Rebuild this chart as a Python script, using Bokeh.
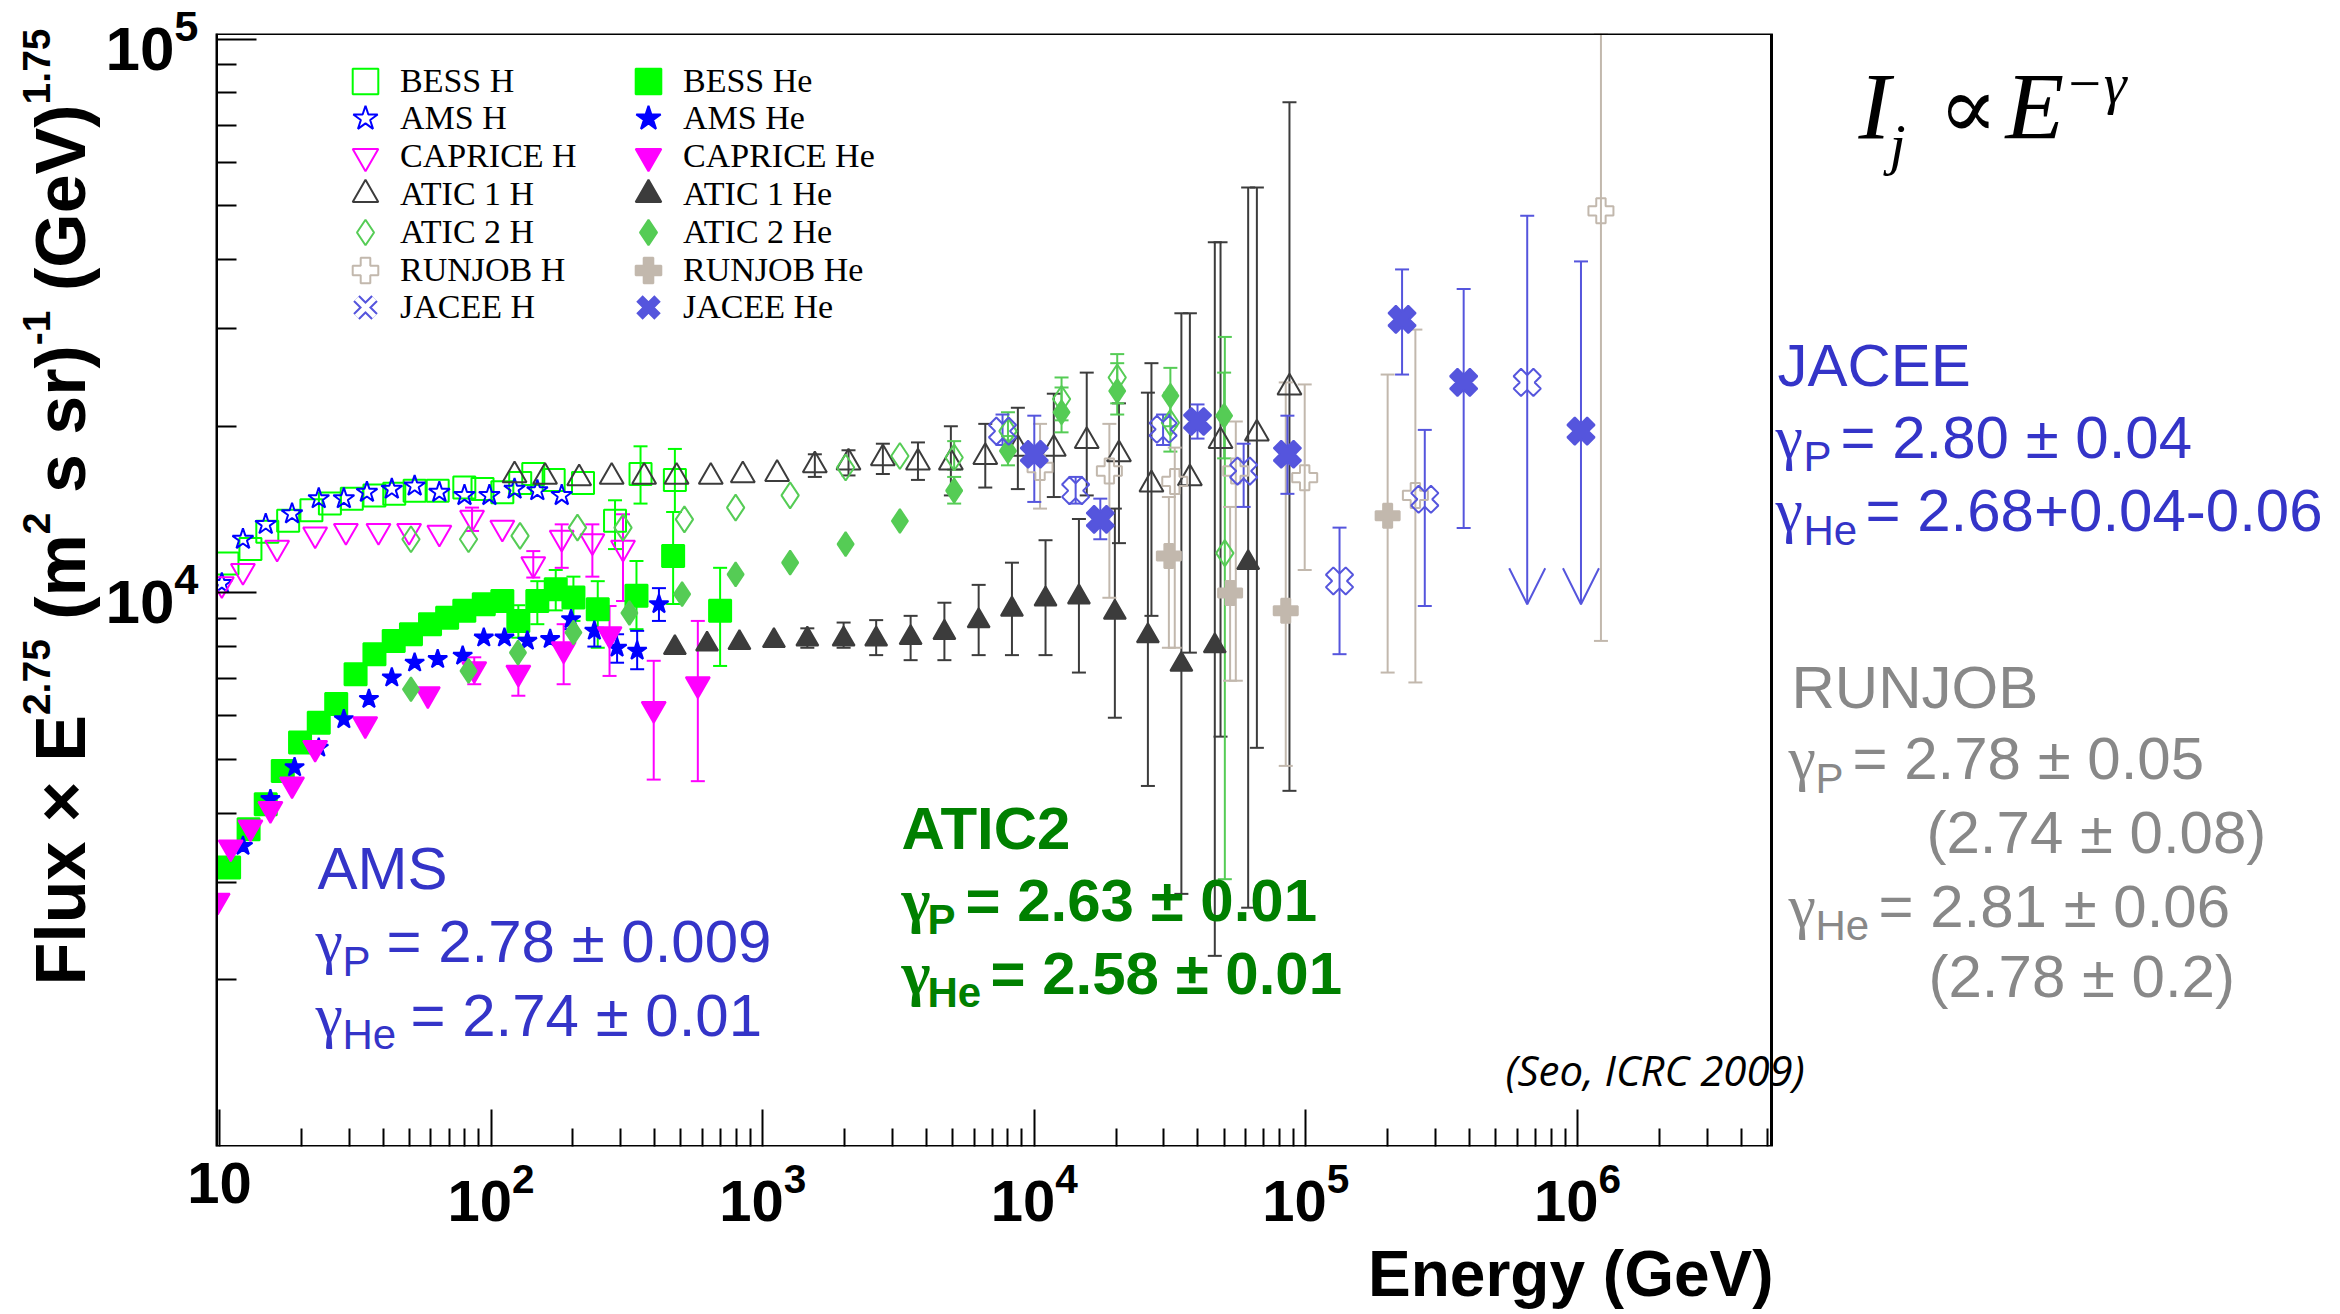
import numpy as np
from bokeh.plotting import figure
from bokeh.layouts import row, column
from bokeh.models import (Range1d, FixedTicker, LogTickFormatter, Label, Legend,
                          LegendItem, ColumnDataSource, Whisker, TeeHead, OpenHead,
                          BoxAnnotation)
from bokeh.embed import file_html
from bokeh.resources import INLINE

# ---------------- data (Energy GeV, Flux x E^2.75) ----------------
bess_h_E = [10.7, 13.0, 15.0, 17.9, 21.8, 25.5, 30.7, 37.2, 44.0, 52.3, 63.6, 79.7, 93.0, 110, 128, 143, 170, 218, 286, 355, 475]
bess_h_F = [1.13e4, 1.20e4, 1.29e4, 1.35e4, 1.41e4, 1.45e4, 1.48e4, 1.50e4, 1.51e4, 1.53e4, 1.53e4, 1.55e4, 1.54e4, 1.52e4, 1.58e4, 1.64e4, 1.60e4, 1.58e4, 1.35e4, 1.64e4, 1.60e4]
bess_h_lo = [None, None, None, None, None, None, None, None, None, None, None, None, None, None, None, None, None, None, 1.20e4, 1.45e4, 1.40e4]
bess_h_hi = [None, None, None, None, None, None, None, None, None, None, None, None, None, None, None, None, None, None, 1.47e4, 1.84e4, 1.82e4]

bess_he_E = [10.85, 12.8, 14.8, 17.1, 19.8, 23.2, 26.9, 31.7, 37.2, 43.8, 50.7, 59.6, 68.9, 79.7, 94, 110, 126, 148, 173, 201, 247, 343, 468, 697]
bess_he_F = [3.19e3, 3.74e3, 4.15e3, 4.77e3, 5.37e3, 5.83e3, 6.30e3, 7.13e3, 7.75e3, 8.19e3, 8.42e3, 8.78e3, 9.02e3, 9.28e3, 9.54e3, 9.67e3, 8.90e3, 9.67e3, 1.015e4, 9.81e3, 9.34e3, 9.88e3, 1.166e4, 9.28e3]
bess_he_lo = [None, None, None, None, None, None, None, None, None, None, None, None, None, 8.9e3, 9.2e3, 9.3e3, 8.3e3, 8.78e3, 9.3e3, 8.9e3, 7.96e3, 8.6e3, 9.55e3, 7.38e3]
bess_he_hi = [None, None, None, None, None, None, None, None, None, None, None, None, None, 9.7e3, 9.9e3, 1.0e4, 9.5e3, 1.05e4, 1.10e4, 1.07e4, 1.05e4, 1.142e4, 1.40e4, 1.11e4]

ams_h_E = [10.2, 12.2, 14.8, 18.5, 23.2, 28.7, 34.9, 43.1, 52.3, 64.5, 79.8, 98.6, 122, 148, 182]
ams_h_F = [1.04e4, 1.25e4, 1.33e4, 1.39e4, 1.48e4, 1.48e4, 1.52e4, 1.54e4, 1.56e4, 1.52e4, 1.50e4, 1.50e4, 1.54e4, 1.53e4, 1.50e4]

ams_he_E = [12.2, 15.4, 18.9, 23.2, 28.7, 35.5, 43.1, 52.3, 63.6, 78.6, 94, 112, 136, 165, 197, 240, 291, 345, 415]
ams_he_F = [3.49e3, 4.24e3, 4.84e3, 5.25e3, 5.91e3, 6.43e3, 7.03e3, 7.48e3, 7.59e3, 7.70e3, 8.30e3, 8.30e3, 8.19e3, 8.25e3, 8.96e3, 8.54e3, 7.96e3, 7.86e3, 9.54e3]
ams_he_lo = [None, None, None, None, None, None, None, None, None, None, None, None, None, None, 8.6e3, 8.0e3, 7.48e3, 7.28e3, 8.9e3]
ams_he_hi = [None, None, None, None, None, None, None, None, None, None, None, None, None, None, 9.4e3, 9.0e3, 8.42e3, 8.54e3, 1.02e4]

cap_h_E = [10.2, 12.2, 16.3, 22.5, 29.2, 38.5, 49.9, 64.5, 85.1, 110, 143, 182, 236, 306]
cap_h_F = [1.037e4, 1.096e4, 1.207e4, 1.276e4, 1.294e4, 1.294e4, 1.294e4, 1.285e4, 1.368e4, 1.312e4, 1.127e4, 1.258e4, 1.24e4, 1.207e4]
cap_h_lo = [None, None, None, None, None, None, None, None, 1.294e4, None, 1.066e4, 1.11e4, 1.07e4, 9.67e3]
cap_h_hi = [None, None, None, None, None, None, None, None, 1.426e4, None, 1.19e4, 1.33e4, 1.33e4, 1.387e4]

cap_he_E = [9.85, 11.0, 13.0, 15.4, 18.5, 22.5, 34.4, 58.5, 86.7, 126, 185, 273, 397, 577]
cap_he_F = [2.78e3, 3.47e3, 3.77e3, 4.07e3, 4.51e3, 5.25e3, 5.79e3, 6.56e3, 7.28e3, 7.18e3, 7.91e3, 8.42e3, 6.17e3, 6.84e3]
cap_he_lo = [None, None, None, None, None, None, None, None, 6.84e3, 6.52e3, 6.84e3, 7.08e3, 4.60e3, 4.57e3]
cap_he_hi = [None, None, None, None, None, None, None, None, 7.65e3, 7.75e3, 8.78e3, 9.47e3, 7.54e3, 8.90e3]

atic1_h_E = [122, 158, 211, 278, 366, 482, 644, 845, 1130, 1556, 2070, 2770, 3730, 4930, 6600, 8700, 11800, 15600, 20500, 27000, 37400, 48500, 66000, 87000]
atic1_h_F = [1.63e4, 1.62e4, 1.61e4, 1.62e4, 1.62e4, 1.62e4, 1.62e4, 1.63e4, 1.64e4, 1.70e4, 1.72e4, 1.75e4, 1.72e4, 1.72e4, 1.76e4, 1.82e4, 1.82e4, 1.88e4, 1.78e4, 1.57e4, 1.61e4, 1.88e4, 1.94e4, 2.35e4]
atic1_h_lo = [None, None, None, None, None, None, None, None, None, 1.62e4, 1.63e4, 1.64e4, 1.60e4, 1.50e4, 1.55e4, 1.54e4, 1.49e4, 1.50e4, 1.23e4, 9.09e3, 7.80e3, 5.50e3, 5.25e3, 4.39e3]
atic1_h_hi = [None, None, None, None, None, None, None, None, None, 1.78e4, 1.81e4, 1.86e4, 1.87e4, 2.00e4, 2.02e4, 2.16e4, 2.29e4, 2.50e4, 2.20e4, 2.60e4, 3.20e4, 4.30e4, 5.40e4, 7.70e4]

atic1_he_E = [475, 624, 821, 1100, 1460, 1986, 2617, 3505, 4667, 6240, 8275, 11000, 14600, 19800, 26200, 34800, 46200, 61300]
atic1_he_F = [7.96e3, 8.08e3, 8.13e3, 8.20e3, 8.25e3, 8.25e3, 8.25e3, 8.30e3, 8.48e3, 8.90e3, 9.34e3, 9.74e3, 9.83e3, 9.22e3, 8.36e3, 7.43e3, 8.02e3, 1.134e4]
atic1_he_lo = [None, None, None, None, 7.96e3, 7.96e3, 7.72e3, 7.56e3, 7.56e3, 7.72e3, 7.72e3, 7.72e3, 7.18e3, 5.95e3, 4.48e3, 2.86e3, 2.21e3, 2.70e3]
atic1_he_hi = [None, None, None, None, 8.63e3, 8.84e3, 8.93e3, 9.09e3, 9.60e3, 1.034e4, 1.134e4, 1.245e4, 1.36e4, 1.42e4, 2.30e4, 3.20e4, 4.30e4, 5.40e4]

atic2_h_E = [50.7, 82.6, 127.8, 208, 306, 515, 795, 1262, 2020, 3200, 5070, 8000, 12600, 20200, 31700, 50300]
atic2_h_F = [1.25e4, 1.25e4, 1.268e4, 1.312e4, 1.312e4, 1.358e4, 1.426e4, 1.50e4, 1.685e4, 1.767e4, 1.756e4, 1.96e4, 2.24e4, 2.45e4, 2.03e4, 1.18e4]
atic2_h_lo = [None, None, None, None, None, None, None, None, None, None, 1.67e4, 1.80e4, 2.05e4, 2.20e4, 1.80e4, 3.04e3]
atic2_h_hi = [None, None, None, None, None, None, None, None, None, None, 1.88e4, 2.12e4, 2.45e4, 2.70e4, 2.30e4, 2.90e4]

atic2_he_E = [50.7, 82.6, 125.6, 201, 323, 505, 795, 1262, 2020, 3200, 5070, 8000, 12600, 20200, 31700, 50000]
atic2_he_F = [6.70e3, 7.23e3, 7.80e3, 8.48e3, 9.20e3, 9.95e3, 1.08e4, 1.134e4, 1.225e4, 1.349e4, 1.53e4, 1.805e4, 2.12e4, 2.316e4, 2.27e4, 2.09e4]
atic2_he_lo = [None, None, None, None, None, None, None, None, None, None, 1.45e4, 1.70e4, 1.95e4, 2.10e4, 2.00e4, 1.75e4]
atic2_he_hi = [None, None, None, None, None, None, None, None, None, None, 1.62e4, 1.92e4, 2.35e4, 2.60e4, 2.55e4, 2.50e4]

run_h_E = [1.05e4, 1.89e4, 3.29e4, 5.52e4, 9.9e4, 2.53e5, 1.22e6]
run_h_F = [1.685e4, 1.66e4, 1.59e4, 1.66e4, 1.615e4, 1.50e4, 4.90e4]
run_h_lo = [1.42e4, 9.80e3, 7.96e3, 6.94e3, 1.10e4, 6.89e3, 8.19e3]
run_h_hi = [2.02e4, 2.02e4, 1.83e4, 2.04e4, 2.38e4, 2.99e4, 1.024e5]

run_he_E = [3.13e4, 5.26e4, 8.43e4, 2.0e5]
run_he_F = [1.166e4, 1.00e4, 9.28e3, 1.378e4]
run_he_lo = [7.96e3, 6.94e3, 4.87e3, 7.18e3]
run_he_hi = [1.49e4, 1.43e4, 2.40e4, 2.48e4]

jac_h_E = [7.64e3, 1.42e4, 2.98e4, 5.9e4, 1.33e5, 2.74e5, 6.53e5]
jac_h_F = [1.96e4, 1.53e4, 1.975e4, 1.66e4, 1.051e4, 1.476e4, 2.40e4]
jac_h_lo = [1.85e4, 1.45e4, 1.85e4, 1.43e4, 7.75e3, 9.47e3, 9.54e3]
jac_h_hi = [2.10e4, 1.62e4, 2.10e4, 1.86e4, 1.312e4, 1.97e4, 4.80e4]
jac_h_limit = [False, False, False, False, False, False, True]

jac_he_E = [1.0e4, 1.75e4, 3.99e4, 8.55e4, 2.26e5, 3.81e5, 1.03e6]
jac_he_F = [1.78e4, 1.358e4, 2.04e4, 1.78e4, 3.12e4, 2.40e4, 1.96e4]
jac_he_lo = [1.46e4, 1.25e4, 1.90e4, 1.51e4, 2.48e4, 1.31e4, 9.54e3]
jac_he_hi = [2.09e4, 1.48e4, 2.19e4, 2.09e4, 3.84e4, 3.54e4, 3.97e4]
jac_he_limit = [False, False, False, False, False, False, True]

x_major = [10, 100, 1000, 10000, 100000, 1000000]
y_major = [10000, 100000]

# ---------------- layout geometry (page pixels) ----------------
W, H = 2340, 1314
WL = 100                      # left strip holding the y title
H_MAIN = 1236                 # main figure height; strip below holds x title
FR_L, FR_R, FR_T, FR_B = 216, 1771, 33, 1146   # plotting box in page px
X0, X1 = 9.75, 5.18e6
Y0, Y1 = 1000, 1.0245e5
DEC = (FR_R - FR_L) / (np.log10(X1) - np.log10(X0))     # px per decade
XMAX = 10 ** (np.log10(X0) + (W - FR_L) / DEC)          # frame extends to the right edge

p = figure(width=W - WL, height=H_MAIN, x_axis_type="log", y_axis_type="log",
           x_range=Range1d(X0, XMAX), y_range=Range1d(Y0, Y1),
           output_backend="svg", toolbar_location=None,
           min_border_left=FR_L - WL, min_border_right=0, min_border_top=FR_T,
           min_border_bottom=H_MAIN - FR_B)
p.background_fill_color = "white"
p.border_fill_color = "white"
p.outline_line_color = None
p.xgrid.visible = False
p.ygrid.visible = False

x_minor = [m * d for d in x_major for m in range(2, 10) if m * d < X1]
y_minor = [m * d for d in [1000, 10000] for m in range(2, 10)]
p.xaxis.ticker = FixedTicker(ticks=x_major, minor_ticks=x_minor)
p.yaxis.ticker = FixedTicker(ticks=y_major, minor_ticks=y_minor)
p.xaxis.formatter = LogTickFormatter()
p.yaxis.formatter = LogTickFormatter()
p.xaxis.major_label_overrides = {10: "10"}

for ax, tin, tmin, stand, fs in ((p.xaxis[0], 37, 18, 16, 58), (p.yaxis[0], 40, 20, 18, 62)):
    ax.major_tick_in = tin
    ax.major_tick_out = 0
    ax.minor_tick_in = tmin
    ax.minor_tick_out = 0
    ax.major_tick_line_color = "black"
    ax.minor_tick_line_color = "black"
    ax.major_tick_line_width = 2
    ax.minor_tick_line_width = 2
    ax.axis_line_color = "black"
    ax.axis_line_width = 2
    ax.major_label_text_font = "Liberation Sans"
    ax.major_label_text_font_style = "bold"
    ax.major_label_text_font_size = f"{fs}px"
    ax.major_label_text_color = "black"
    ax.major_label_standoff = stand
p.xaxis[0].axis_line_color = None

# frame box of the plotting area
p.add_layout(BoxAnnotation(left=X0, right=X1, bottom=Y0, top=Y1, fill_alpha=0,
                           line_color="black", line_alpha=1.0, line_width=3, level="overlay"))

C_BESS = "#00ff00"
C_AMS = "#0000ff"
C_CAP = "#ff00ff"
C_ATIC1 = "#3c3c3c"
C_ATIC2 = "#55cc55"
C_RUN = "#c2b8ad"
C_JAC = "#5555dd"


def errbars(E, lo, hi, color, lw=2, head=14, limits=None):
    idx = [i for i in range(len(E)) if lo[i] is not None]
    norm = [i for i in idx if not (limits and limits[i])]
    lim = [i for i in idx if limits and limits[i]]
    for sel, lower_head in ((norm, TeeHead(size=head, line_color=color, line_width=lw)),
                            (lim, OpenHead(size=36, line_color=color, line_width=lw))):
        if not sel:
            continue
        src = ColumnDataSource(dict(x=[E[i] for i in sel], lo=[lo[i] for i in sel],
                                    hi=[hi[i] for i in sel]))
        p.add_layout(Whisker(source=src, base="x", lower="lo", upper="hi", dimension="height",
                             line_color=color, line_width=lw,
                             upper_head=TeeHead(size=head, line_color=color, line_width=lw),
                             lower_head=lower_head))


def series(E, F, marker, color, size, filled, angle=0.0, lw=2):
    src = ColumnDataSource(dict(x=E, y=F))
    return p.scatter("x", "y", source=src, marker=marker, size=size, angle=angle,
                     line_color=color, line_width=lw, fill_color=color,
                     fill_alpha=1.0 if filled else 0.0)


errbars(bess_h_E, bess_h_lo, bess_h_hi, C_BESS)
errbars(bess_he_E, bess_he_lo, bess_he_hi, C_BESS)
errbars(ams_he_E, ams_he_lo, ams_he_hi, C_AMS)
errbars(cap_h_E, cap_h_lo, cap_h_hi, C_CAP)
errbars(cap_he_E, cap_he_lo, cap_he_hi, C_CAP)
errbars(atic1_h_E, atic1_h_lo, atic1_h_hi, C_ATIC1)
errbars(atic1_he_E, atic1_he_lo, atic1_he_hi, C_ATIC1)
errbars(atic2_h_E, atic2_h_lo, atic2_h_hi, C_ATIC2)
errbars(atic2_he_E, atic2_he_lo, atic2_he_hi, C_ATIC2)
errbars(run_h_E, run_h_lo, run_h_hi, C_RUN)
errbars(run_he_E, run_he_lo, run_he_hi, C_RUN)
errbars(jac_h_E, jac_h_lo, jac_h_hi, C_JAC, limits=jac_h_limit)
errbars(jac_he_E, jac_he_lo, jac_he_hi, C_JAC, limits=jac_he_limit)

r_bess_h = series(bess_h_E, bess_h_F, "square", C_BESS, 22, False)
r_bess_he = series(bess_he_E, bess_he_F, "square", C_BESS, 22, True)
r_ams_h = series(ams_h_E, ams_h_F, "star", C_AMS, 22, False)
r_ams_he = series(ams_he_E, ams_he_F, "star", C_AMS, 20, True)
r_cap_h = series(cap_h_E, cap_h_F, "inverted_triangle", C_CAP, 24, False)
r_cap_he = series(cap_he_E, cap_he_F, "inverted_triangle", C_CAP, 24, True)
r_atic1_h = series(atic1_h_E, atic1_h_F, "triangle", C_ATIC1, 24, False)
r_atic1_he = series(atic1_he_E, atic1_he_F, "triangle", C_ATIC1, 22, True)
r_atic2_h = series(atic2_h_E, atic2_h_F, "diamond", C_ATIC2, 26, False)
r_atic2_he = series(atic2_he_E, atic2_he_F, "diamond", C_ATIC2, 24, True)
r_run_h = series(run_h_E, run_h_F, "plus", C_RUN, 25, False)
r_run_he = series(run_he_E, run_he_F, "plus", C_RUN, 24, True)
r_jac_h = series(jac_h_E, jac_h_F, "plus", C_JAC, 28, False, angle=np.pi / 4)
r_jac_he = series(jac_he_E, jac_he_F, "plus", C_JAC, 28, True, angle=np.pi / 4)

# legend swatches for the X-shaped JACEE markers (legends never rotate markers):
# hidden renderers on the same JACEE data, drawn only inside the legend
jac_h_sw1 = p.scatter("x", "y", source=r_jac_h.data_source, marker="x", size=26,
                      line_color=C_JAC, line_width=9, visible=False)
jac_h_sw2 = p.scatter("x", "y", source=r_jac_h.data_source, marker="x", size=26,
                      line_color="white", line_width=5, visible=False)
jac_he_sw = p.scatter("x", "y", source=r_jac_he.data_source, marker="x", size=26,
                      line_color=C_JAC, line_width=9, visible=False)

# ---------------- legend: one small legend per entry, two columns ----------------
legend_h = [("BESS H", [r_bess_h]), ("AMS H", [r_ams_h]), ("CAPRICE H", [r_cap_h]),
            ("ATIC 1 H", [r_atic1_h]), ("ATIC 2 H", [r_atic2_h]), ("RUNJOB H", [r_run_h]),
            ("JACEE H", [jac_h_sw1, jac_h_sw2])]
legend_he = [("BESS He", [r_bess_he]), ("AMS He", [r_ams_he]), ("CAPRICE He", [r_cap_he]),
             ("ATIC 1 He", [r_atic1_he]), ("ATIC 2 He", [r_atic2_he]), ("RUNJOB He", [r_run_he]),
             ("JACEE He", [jac_he_sw])]
ROW_Y = [80.6, 118.4, 156.2, 194.0, 231.8, 269.6, 307.4]   # page px centres of legend rows
COL_X = [365, 648]                                         # page px centres of legend swatches
GB = 64
for cx, entries in zip(COL_X, (legend_h, legend_he)):
    for (name, rends), cy in zip(entries, ROW_Y):
        p.add_layout(Legend(items=[LegendItem(label=name, renderers=rends)],
                            location=(cx - GB / 2 - FR_L, FR_B - cy - GB / 2),
                            orientation="vertical", glyph_width=GB, glyph_height=GB,
                            label_standoff=3, spacing=0, padding=0, margin=0,
                            border_line_alpha=0, background_fill_alpha=0,
                            inactive_fill_alpha=0,
                            label_text_font="Liberation Serif", label_text_font_size="34px",
                            label_text_color="black", label_text_baseline="middle"))

# ---------------- text helpers ----------------
MID = {"Liberation Sans": 0.37, "Liberation Serif": 0.36, "DejaVu Serif": 0.36, "Open Sans": 0.39}


def lab(fig, text, sx, sy, size, color, font="Liberation Sans", style="normal",
        angle=0.0, align="left"):
    """sx, sy: baseline start, in px from the frame's bottom-left corner."""
    k = MID.get(font, 0.37) * size
    if angle:
        x, y = sx - k, sy
    else:
        x, y = sx, sy + k
    fig.add_layout(Label(x=x, y=y, x_units="screen", y_units="screen", text=text,
                         text_font=font, text_font_size=f"{size}px", text_font_style=style,
                         text_color=color, text_align=align, text_baseline="middle",
                         angle=angle))


def P(x, y):
    """page px -> main-frame screen coords"""
    return x - FR_L, FR_B - y


BLUE_T = "#3434c8"
GREEN_T = "#008000"
GRAY_T = "#888888"
GSER = "Liberation Serif"


def gamma_block(x_g, x_sub, x_eq, y_base, y_sub, sub, rest, color, style="normal"):
    lab(p, "γ", *P(x_g, y_base), 62, color, font=GSER, style="bold" if style == "bold" else "normal")
    lab(p, sub, *P(x_sub, y_sub), 42, color, style=style)
    lab(p, rest, *P(x_eq, y_base), 60, color, style=style)


# AMS
lab(p, "AMS", *P(317, 890), 60, BLUE_T)
gamma_block(315, 342, 386, 963, 977, "P", "= 2.78 ± 0.009", BLUE_T)
gamma_block(315, 342, 410, 1037, 1050, "He", "= 2.74 ± 0.01", BLUE_T)

# ATIC2
lab(p, "ATIC2", *P(901, 850), 60, GREEN_T, style="bold")
gamma_block(901, 927, 965, 922, 935, "P", "= 2.63 ± 0.01", GREEN_T, style="bold")
gamma_block(901, 927, 990, 995, 1008, "He", "= 2.58 ± 0.01", GREEN_T, style="bold")

# JACEE
lab(p, "JACEE", *P(1777, 387), 60, BLUE_T)
gamma_block(1775, 1803, 1840, 459, 472, "P", "= 2.80 ± 0.04", BLUE_T)
gamma_block(1775, 1803, 1865, 532, 546, "He", "= 2.68+0.04-0.06", BLUE_T)

# RUNJOB
lab(p, "RUNJOB", *P(1791, 709), 60, GRAY_T)
gamma_block(1788, 1815, 1852, 780, 794, "P", "= 2.78 ± 0.05", GRAY_T)
lab(p, "(2.74 ± 0.08)", *P(1926, 854), 60, GRAY_T)
gamma_block(1788, 1815, 1878, 928, 941, "He", "= 2.81 ± 0.06", GRAY_T)
lab(p, "(2.78 ± 0.2)", *P(1928, 998), 60, GRAY_T)

# formula I_j ∝ E^-γ
lab(p, "I", *P(1858, 141), 96, "black", font=GSER, style="italic")
lab(p, "j", *P(1889, 165), 58, "black", font=GSER, style="italic")
lab(p, "∝", *P(1938, 139), 88, "black", font="DejaVu Serif")
lab(p, "E", *P(2005, 141), 96, "black", font=GSER, style="italic")
lab(p, "−γ", *P(2064, 104), 58, "black", font=GSER, style="italic")

# citation
lab(p, "(Seo, ICRC 2009)", *P(1505, 1085), 42, "black", font="Open Sans", style="italic")

# ---------------- left strip: y-axis title (rotated, with superscripts) ----------------
left = figure(width=WL, height=H, x_range=Range1d(0, 1), y_range=Range1d(0, 1),
              output_backend="svg", toolbar_location=None, min_border=0,
              x_axis_location=None, y_axis_location=None)
left.outline_line_color = None
left.background_fill_color = "white"
left.border_fill_color = "white"
left.xgrid.visible = False
left.ygrid.visible = False

BOLD_W = {' ': 278, '(': 333, ')': 333, '-': 333, '.': 278, '=': 584, '±': 584, '×': 584,
          'E': 667, 'F': 611, 'G': 778, 'V': 667, 'e': 556, 'l': 278, 'm': 889, 'r': 389,
          's': 556, 'u': 611, 'x': 556}


def tw(s, size):
    return sum(BOLD_W.get(c, 556) for c in s) * size / 1000.0


y_title = [("Flux × E", False), ("2.75", True), (" (m", False), ("2", True),
           (" s sr)", False), ("-1", True), (" (GeV)", False), ("1.75", True)]
MAIN, SUP = 70, 39
pos = H - 985.0
for txt, sup in y_title:
    size = SUP if sup else MAIN
    lead = len(txt) - len(txt.lstrip(' '))
    pos += tw(' ' * lead, size)
    core = txt.strip(' ')
    lab(left, core, 50 if sup else 86, pos, size, "black", style="bold", angle=np.pi / 2)
    pos += tw(core, size)

# ---------------- bottom strip: x-axis title (frame aligned with main frame) ----------------
H_BOT = H - H_MAIN
bottom = figure(width=W - WL, height=H_BOT, x_range=Range1d(0, 1), y_range=Range1d(0, 1),
                output_backend="svg", toolbar_location=None, min_border=0,
                x_axis_location=None, y_axis_location=None)
bottom.outline_line_color = None
bottom.background_fill_color = "white"
bottom.border_fill_color = "white"
bottom.xgrid.visible = False
bottom.ygrid.visible = False
lab(bottom, "Energy (GeV)", 1773 - FR_L, H - 1297, 64, "black", style="bold", align="right")

layout = row(left, column(p, bottom, spacing=0), spacing=0)
open("out.html", "w").write(file_html(layout, INLINE))
